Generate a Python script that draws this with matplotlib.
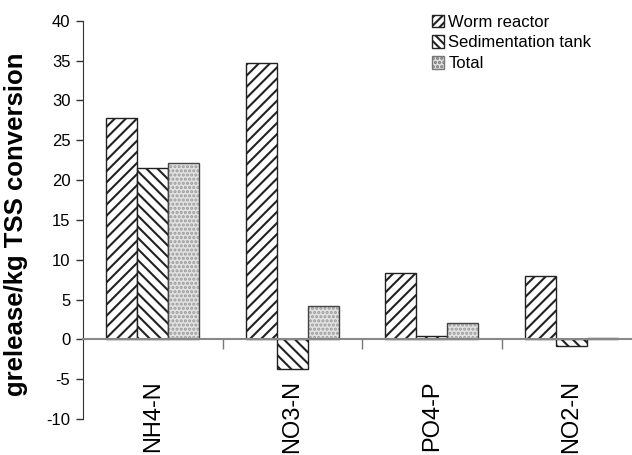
import numpy as np
import matplotlib
matplotlib.use('Agg')
import matplotlib.pyplot as plt
from matplotlib.patches import Patch

plt.rcParams['font.family'] = ['Liberation Sans', 'DejaVu Sans']
plt.rcParams['hatch.linewidth'] = 1.5
plt.rcParams['axes.unicode_minus'] = False

# data
categories = ['NH4-N', 'NO3-N', 'PO4-P', 'NO2-N']
series_names = ['Worm reactor', 'Sedimentation tank', 'Total']
worm = [27.8, 34.7, 8.3, 8.0]
sedimentation = [21.5, -3.7, 0.4, -0.8]
total = [22.2, 4.2, 2.0, 0.2]
yticks = [-10, -5, 0, 5, 10, 15, 20, 25, 30, 35, 40]

fig = plt.figure(figsize=(6.32, 4.55), dpi=100)
ax = fig.add_axes([0.1313, 0.079, 0.8687, 0.8755])

x = np.arange(len(categories))
w = 0.222

ax.bar(x - w, worm, w, color='white', edgecolor='#222222', hatch='///', linewidth=1.0, zorder=2)
ax.bar(x, sedimentation, w, color='white', edgecolor='#222222', hatch='\\\\\\', linewidth=1.0, zorder=2)
# total: grey dotted fill, then a dark outline on top
ax.bar(x + w, total, w, color='#e2e2e2', edgecolor='#9a9a9a', hatch='....', linewidth=0, zorder=2)
ax.bar(x + w, total, w, color='none', edgecolor='#444444', linewidth=1.0, zorder=3)

ax.set_xlim(-0.5, 3.435)
ax.set_ylim(-10, 40)
ax.set_yticks(yticks)
ax.tick_params(axis='y', direction='out', length=5, width=1, colors='#333333', labelsize=12, labelcolor='black', pad=4)

# zero line with group separators
ax.spines['top'].set_visible(False)
ax.spines['right'].set_visible(False)
ax.spines['left'].set_color('#333333')
ax.spines['bottom'].set_position(('data', 0))
ax.spines['bottom'].set_color('#888888')
ax.spines['bottom'].set_linewidth(1.5)
ax.spines['bottom'].set_zorder(4)
ax.set_xticks([0.5, 1.5, 2.5])
ax.set_xticklabels([])
ax.tick_params(axis='x', direction='out', length=7, width=1, colors='#777777')

for i, cat in enumerate(categories):
    ax.text(i, -5.1, cat, rotation=90, ha='center', va='top', fontsize=17)

ax.set_ylabel('grelease/kg TSS conversion', fontsize=18.5, fontweight='bold')
ax.yaxis.set_label_coords(-0.1, 0.49)

handles = [
    Patch(facecolor='white', edgecolor='#222222', hatch='////', label=series_names[0]),
    Patch(facecolor='white', edgecolor='#222222', hatch='\\\\\\\\', label=series_names[1]),
    Patch(facecolor='#dddddd', edgecolor='#777777', hatch='....', label=series_names[2]),
]
fig.legend(handles=handles, loc='upper left', bbox_to_anchor=(0.683, 0.968), frameon=False,
           fontsize=12, handlelength=0.75, handleheight=0.75, handletextpad=0.25,
           labelspacing=0.35, borderpad=0, borderaxespad=0)

fig.savefig('out.png', dpi=100)
